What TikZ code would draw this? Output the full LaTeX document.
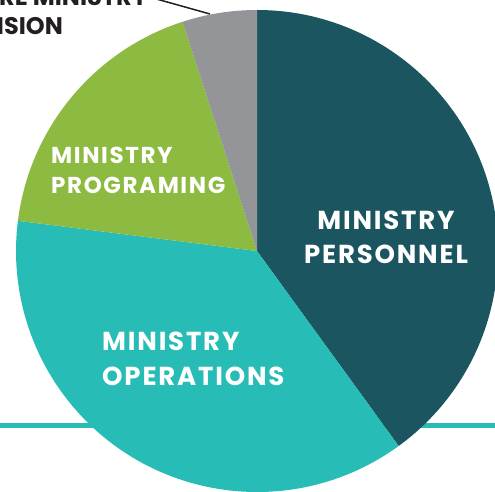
\documentclass[tikz,border=0pt]{standalone}
\usepackage{fontspec}
\setmainfont{Poppins}
\definecolor{personnel}{HTML}{1B5660}
\definecolor{operations}{HTML}{27BDB6}
\definecolor{programing}{HTML}{8DBB41}
\definecolor{futuregray}{HTML}{939598}
\definecolor{labelink}{HTML}{231F20}

\begin{document}
\begin{tikzpicture}[x=1pt,y=1pt,
    slicetext/.style={text=white,inner sep=0pt,font=\bfseries\fontsize{26}{34}\selectfont\addfontfeatures{LetterSpace=7}},
    futuretext/.style={text=labelink,inner sep=0pt,font=\bfseries\fontsize{24}{29}\selectfont}]
    \useasboundingbox (0,0) rectangle (495,491);
    \clip (0,0) rectangle (495,491);
    \coordinate (c) at (257,240);
    \draw[operations,line width=5] (0,66) -- (495,66);
    \fill[personnel] (c) -- ++(90:241) arc (90:-54:241) -- cycle;
    \fill[operations] (c) -- ++(-54:241) arc (-54:-187.2:241) -- cycle;
    \fill[programing] (c) -- ++(172.8:241) arc (172.8:108:241) -- cycle;
    \fill[futuregray] (c) -- ++(108:241) arc (108:90:241) -- cycle;
    \node[slicetext,anchor=north,align=center] (personnel label) at (386,280) {MINISTRY\\PERSONNEL};
    \node[slicetext,anchor=north west,align=left,font=\bfseries\fontsize{23}{30}\selectfont\addfontfeatures{LetterSpace=7}] (programing label) at (51,344) {MINISTRY\\PROGRAMING};
    \node[slicetext,anchor=north west,align=left,font=\bfseries\fontsize{26}{35}\selectfont\addfontfeatures{LetterSpace=7}] (operations label) at (102,159) {MINISTRY\\OPERATIONS};
    \node[futuretext,anchor=base east] (future top) at (148,485) {RE MINISTRY};
    \node[futuretext,anchor=base east] (future bottom) at (63,456) {ISION};
    \coordinate (gray tip) at (210,477);
    \coordinate (lead end) at (140,496.6);
    \draw[labelink,line width=1.5] (gray tip) -- (lead end);
\end{tikzpicture}
\end{document}
